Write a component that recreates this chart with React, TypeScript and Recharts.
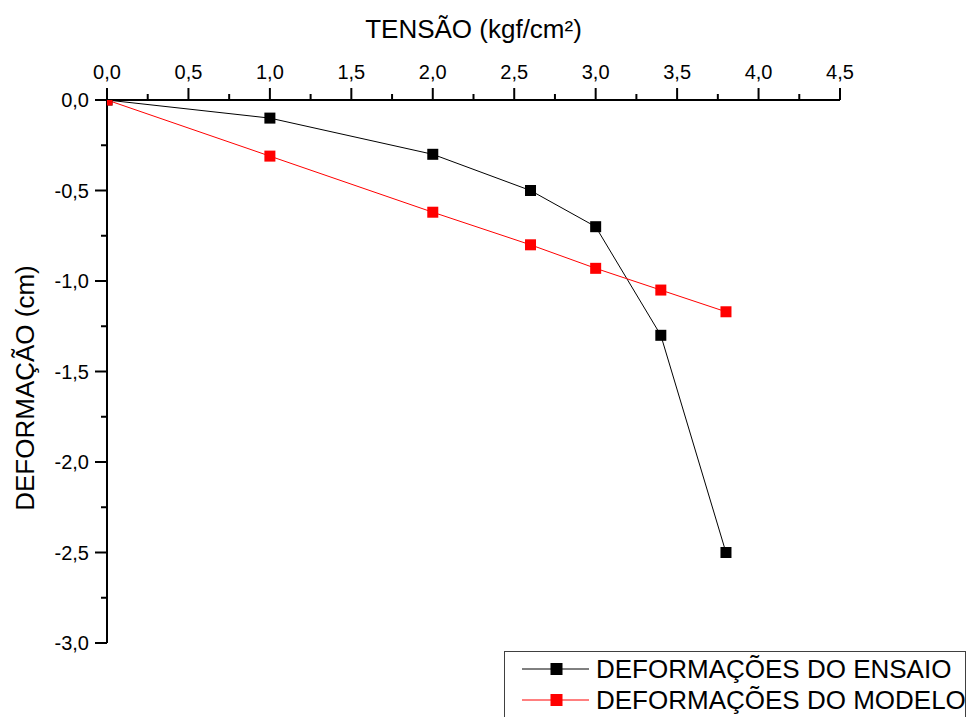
import React from 'react';
import { LineChart, Line, XAxis, YAxis, Legend } from 'recharts';

const tensao = [0, 1.0, 2.0, 2.6, 3.0, 3.4, 3.8];
const deformacaoEnsaio = [0, -0.1, -0.3, -0.5, -0.7, -1.3, -2.5];
const deformacaoModelo = [0, -0.31, -0.62, -0.8, -0.93, -1.05, -1.17];
const xTicks = [0, 0.25, 0.5, 0.75, 1, 1.25, 1.5, 1.75, 2, 2.25, 2.5, 2.75, 3, 3.25, 3.5, 3.75, 4, 4.25, 4.5];
const yTicks = [0, -0.25, -0.5, -0.75, -1, -1.25, -1.5, -1.75, -2, -2.25, -2.5, -2.75, -3];
const seriesNames = ['DEFORMAÇÕES DO ENSAIO', 'DEFORMAÇÕES DO MODELO'];
const seriesColors = ['#000000', '#ff0000'];
const xTitle = 'TENSÃO (kgf/cm²)';
const yTitle = 'DEFORMAÇÃO (cm)';

const data = tensao.map((t, i) => ({ t, ensaio: deformacaoEnsaio[i], modelo: deformacaoModelo[i] }));

const FONT = '"Liberation Sans", Arial, sans-serif';
const fmt = (v: number) => v.toFixed(1).replace('.', ',');
const isMajor = (v: number) => Math.abs(v * 2 - Math.round(v * 2)) < 1e-6;

const XTick = (props: any) => {
  const { x, y, payload } = props;
  const v = payload.value as number;
  const major = isMajor(v);
  return (
    <g>
      <line x1={x} y1={y} x2={x} y2={y - (major ? 12 : 6)} stroke="#000" strokeWidth={2} />
      {major && (
        <text x={x} y={y - 21} textAnchor="middle" fontSize={20} fontFamily={FONT} fill="#000">
          {fmt(v)}
        </text>
      )}
    </g>
  );
};

const YTick = (props: any) => {
  const { x, y, payload } = props;
  const v = payload.value as number;
  const major = isMajor(v);
  return (
    <g>
      <line x1={x} y1={y} x2={x - (major ? 12 : 6)} y2={y} stroke="#000" strokeWidth={2} />
      {major && (
        <text x={x - 18} y={y + 7} textAnchor="end" fontSize={20} fontFamily={FONT} fill="#000">
          {fmt(v)}
        </text>
      )}
    </g>
  );
};

const makeSquare = (color: string) => (props: any) => {
  const { cx, cy, index } = props;
  if (cx == null || cy == null) return <g key={`e-${index}`} />;
  return <rect key={`d-${index}`} x={cx - 5.5} y={cy - 5.5} width={11} height={11} fill={color} />;
};

const LegendBox = (props: any) => {
  const payload = (props.payload || []) as any[];
  return (
    <div
      style={{
        width: 462,
        height: 80,
        boxSizing: 'border-box',
        border: '1px solid #404040',
        background: '#fff',
      }}
    >
      <svg width={460} height={78} style={{ display: 'block' }}>
        {payload.map((p, i) => {
          const cy = 17 + i * 31;
          return (
            <g key={i}>
              <line x1={17} y1={cy} x2={84} y2={cy} stroke={p.color} strokeWidth={1} />
              <rect x={45.5} y={cy - 6} width={12} height={12} fill={p.color} />
              <text x={91} y={cy + 9} fontSize={26} fontFamily={FONT} fill="#000">
                {p.value}
              </text>
            </g>
          );
        })}
      </svg>
    </div>
  );
};

export default function App() {
  return (
    <div
      style={{
        position: 'absolute',
        left: 0,
        top: 0,
        width: 969,
        height: 717,
        overflow: 'hidden',
        background: '#fff',
      }}
    >
      <LineChart width={969} height={717} data={data} margin={{ top: 0, right: 129, bottom: 74, left: 0 }}>
        <XAxis
          dataKey="t"
          type="number"
          orientation="top"
          domain={[0, 4.5]}
          ticks={xTicks}
          interval={0}
          allowDataOverflow
          height={100}
          tickSize={0}
          tickMargin={0}
          tickLine={false}
          axisLine={{ stroke: '#000', strokeWidth: 2 }}
          tick={XTick}
          label={() => (
            <text x={473.5} y={38} textAnchor="middle" fontSize={26} fontFamily={FONT} fill="#000">
              {xTitle}
            </text>
          )}
        />
        <YAxis
          type="number"
          domain={[-3, 0]}
          ticks={yTicks}
          interval={0}
          allowDataOverflow
          width={107}
          tickSize={0}
          tickMargin={0}
          tickLine={false}
          axisLine={{ stroke: '#000', strokeWidth: 2 }}
          tick={YTick}
          label={() => (
            <text
              x={34}
              y={388}
              transform="rotate(-90 34 388)"
              textAnchor="middle"
              fontSize={26}
              fontFamily={FONT}
              fill="#000"
            >
              {yTitle}
            </text>
          )}
        />
        <Legend
          layout="vertical"
          align="center"
          verticalAlign="middle"
          wrapperStyle={{ left: 504, top: 651, width: 462, height: 80 }}
          content={LegendBox}
        />
        <Line
          name={seriesNames[0]}
          dataKey="ensaio"
          stroke={seriesColors[0]}
          strokeWidth={1}
          dot={makeSquare(seriesColors[0])}
          activeDot={false}
          isAnimationActive={false}
        />
        <Line
          name={seriesNames[1]}
          dataKey="modelo"
          stroke={seriesColors[1]}
          strokeWidth={1}
          dot={makeSquare(seriesColors[1])}
          activeDot={false}
          isAnimationActive={false}
        />
      </LineChart>
    </div>
  );
}
